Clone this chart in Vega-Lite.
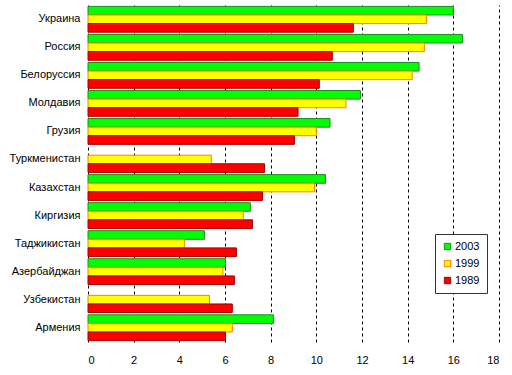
{
  "$schema": "https://vega.github.io/schema/vega-lite/v6.json",
  "autosize": "none",
  "padding": {"left": 88, "top": 5, "right": 13, "bottom": 33},
  "width": 411,
  "height": 337,
  "background": "white",
  "config": {
    "font": "Liberation Sans",
    "view": {"stroke": null}
  },
  "data": {
    "values": [
      {"country": "Украина", "year": "2003", "value": 16.0},
      {"country": "Украина", "year": "1999", "value": 14.82},
      {"country": "Украина", "year": "1989", "value": 11.62},
      {"country": "Россия", "year": "2003", "value": 16.4},
      {"country": "Россия", "year": "1999", "value": 14.73},
      {"country": "Россия", "year": "1989", "value": 10.7},
      {"country": "Белоруссия", "year": "2003", "value": 14.5},
      {"country": "Белоруссия", "year": "1999", "value": 14.2},
      {"country": "Белоруссия", "year": "1989", "value": 10.13},
      {"country": "Молдавия", "year": "2003", "value": 11.93},
      {"country": "Молдавия", "year": "1999", "value": 11.3},
      {"country": "Молдавия", "year": "1989", "value": 9.2},
      {"country": "Грузия", "year": "2003", "value": 10.6},
      {"country": "Грузия", "year": "1999", "value": 10.0},
      {"country": "Грузия", "year": "1989", "value": 9.04},
      {"country": "Туркменистан", "year": "1999", "value": 5.4},
      {"country": "Туркменистан", "year": "1989", "value": 7.73},
      {"country": "Казахстан", "year": "2003", "value": 10.4},
      {"country": "Казахстан", "year": "1999", "value": 9.92},
      {"country": "Казахстан", "year": "1989", "value": 7.64},
      {"country": "Киргизия", "year": "2003", "value": 7.11},
      {"country": "Киргизия", "year": "1999", "value": 6.8},
      {"country": "Киргизия", "year": "1989", "value": 7.2},
      {"country": "Таджикистан", "year": "2003", "value": 5.1},
      {"country": "Таджикистан", "year": "1999", "value": 4.22},
      {"country": "Таджикистан", "year": "1989", "value": 6.5},
      {"country": "Азербайджан", "year": "2003", "value": 6.02},
      {"country": "Азербайджан", "year": "1999", "value": 5.91},
      {"country": "Азербайджан", "year": "1989", "value": 6.41},
      {"country": "Узбекистан", "year": "1999", "value": 5.32},
      {"country": "Узбекистан", "year": "1989", "value": 6.32},
      {"country": "Армения", "year": "2003", "value": 8.12},
      {"country": "Армения", "year": "1999", "value": 6.32},
      {"country": "Армения", "year": "1989", "value": 6.02}
    ]
  },
  "mark": {"type": "bar", "strokeWidth": 1, "opacity": 1},
  "encoding": {
    "y": {
      "field": "country",
      "type": "nominal",
      "sort": ["Украина", "Россия", "Белоруссия", "Молдавия", "Грузия", "Туркменистан", "Казахстан", "Киргизия", "Таджикистан", "Азербайджан", "Узбекистан", "Армения"],
      "scale": {"paddingInner": 0.08, "paddingOuter": 0.05},
      "axis": {
        "title": null,
        "domain": false,
        "ticks": false,
        "grid": false,
        "labelPadding": 8,
        "labelFontSize": 11,
        "labelColor": "black",
        "labelFont": "Liberation Sans"
      }
    },
    "yOffset": {
      "field": "year",
      "type": "nominal",
      "scale": {"domain": ["2003", "1999", "1989"]}
    },
    "x": {
      "field": "value",
      "type": "quantitative",
      "scale": {"domain": [0, 18], "nice": false},
      "axis": {
        "title": null,
        "values": [0, 2, 4, 6, 8, 10, 12, 14, 16, 18],
        "domain": false,
        "ticks": false,
        "grid": true,
        "gridColor": "black",
        "gridDash": [3, 3],
        "gridWidth": 1,
        "gridOpacity": 1,
        "labelPadding": 12,
        "labelFontSize": 11,
        "labelColor": "black",
        "labelFont": "Liberation Sans"
      }
    },
    "fill": {
      "field": "year",
      "type": "nominal",
      "scale": {"domain": ["2003", "1999", "1989"], "range": ["#00FF00", "#FFFF00", "#FF0000"]},
      "legend": {
        "title": null,
        "orient": "none",
        "legendX": 347,
        "legendY": 229,
        "symbolType": "square",
        "symbolSize": 40,
        "symbolStrokeWidth": 1,
        "symbolOpacity": 1,
        "labelFontSize": 11,
        "labelColor": "black",
        "labelFont": "Liberation Sans",
        "rowPadding": 5,
        "padding": 7,
        "fillColor": "white",
        "strokeColor": "#333333",
        "labelOffset": 2
      }
    },
    "stroke": {
      "field": "year",
      "type": "nominal",
      "scale": {"domain": ["2003", "1999", "1989"], "range": ["#1E8C1E", "#FF8000", "#A00000"]},
      "legend": null
    }
  }
}
